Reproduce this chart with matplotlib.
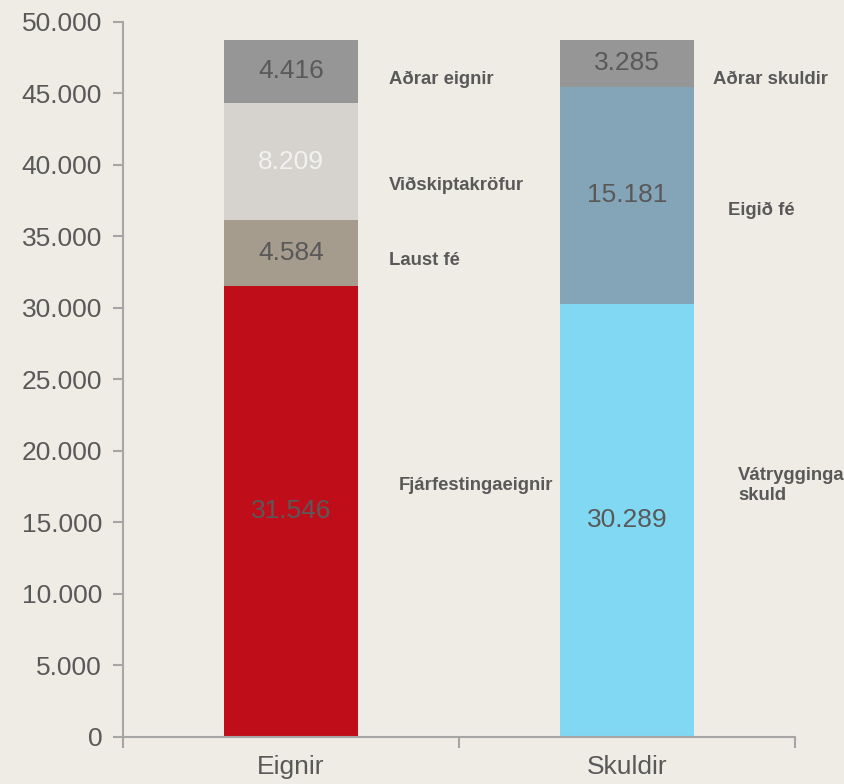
import matplotlib
matplotlib.use("Agg")
import matplotlib.pyplot as plt
from matplotlib.ticker import FuncFormatter, FixedLocator

plt.rcParams['font.family'] = ['Liberation Sans', 'DejaVu Sans']

categories = ["Eignir", "Skuldir"]

# stacks, bottom to top
eignir_names = ["Fjárfestingaeignir", "Laust fé", "Viðskiptakröfur", "Aðrar eignir"]
eignir_values = [31546, 4584, 8209, 4416]
eignir_colors = ["#C00D1A", "#A59C8D", "#D6D3CE", "#969696"]
eignir_txtcol = ["#595959", "#595959", "#F2F2F2", "#595959"]

skuldir_names = ["Vátrygginga\nskuld", "Eigið fé", "Aðrar skuldir"]
skuldir_values = [30289, 15181, 3285]
skuldir_colors = ["#80D8F2", "#84A4B8", "#969696"]
skuldir_txtcol = ["#595959", "#595959", "#595959"]

# where the side names sit (x offset from bar centre, y in data units)
eignir_name_pos = [(0.32, 17600), (0.29, 33300), (0.29, 38600), (0.29, 45950)]
skuldir_name_pos = [(0.33, 17600), (0.30, 36850), (0.255, 45950)]

BG = "#EFECE6"
TXT = "#595959"
AX = "#A6A6A6"

fig = plt.figure(figsize=(8.45, 7.84), dpi=100, facecolor=BG)
ax = fig.add_axes([0.1456, 0.06, 0.7955, 0.912])
ax.set_facecolor(BG)

stacks = [
    (eignir_names, eignir_values, eignir_colors, eignir_txtcol, eignir_name_pos),
    (skuldir_names, skuldir_values, skuldir_colors, skuldir_txtcol, skuldir_name_pos),
]

for xi, (names, vals, cols, tcols, npos) in enumerate(stacks):
    bottom = 0
    for name, v, c, tc, (dx, ny) in zip(names, vals, cols, tcols, npos):
        ax.bar(xi, v, bottom=bottom, width=0.40, color=c, linewidth=0)
        lab = f"{v:,}".replace(",", ".")
        ax.text(xi, bottom + v / 2, lab, ha="center", va="center",
                fontsize=19, color=tc)
        ax.text(xi + dx, ny, name, ha="left", va="center", fontsize=13.3,
                fontweight="bold", color=TXT, linespacing=1.25)
        bottom += v

ax.set_xlim(-0.5, 1.5)
ax.set_ylim(0, 50000)
ax.set_yticks(range(0, 50001, 5000))
ax.yaxis.set_major_formatter(FuncFormatter(lambda v, p: f"{int(v):,}".replace(",", ".")))
ax.xaxis.set_major_locator(FixedLocator([-0.5, 0.5, 1.5]))
ax.set_xticklabels([])
ax.xaxis.set_minor_locator(FixedLocator([0, 1]))
ax.set_xticklabels(categories, minor=True)

for s in ["top", "right"]:
    ax.spines[s].set_visible(False)
for s in ["left", "bottom"]:
    ax.spines[s].set_color(AX)
    ax.spines[s].set_linewidth(1.5)

ax.tick_params(axis="y", direction="out", length=7, width=1.5, color=AX,
               labelsize=19, labelcolor=TXT, pad=8)
ax.tick_params(axis="x", which="major", direction="out", length=8, width=1.5, color=AX)
ax.tick_params(axis="x", which="minor", length=0, labelsize=19, labelcolor=TXT, pad=13)

fig.savefig("out.png", dpi=100, facecolor=BG)
